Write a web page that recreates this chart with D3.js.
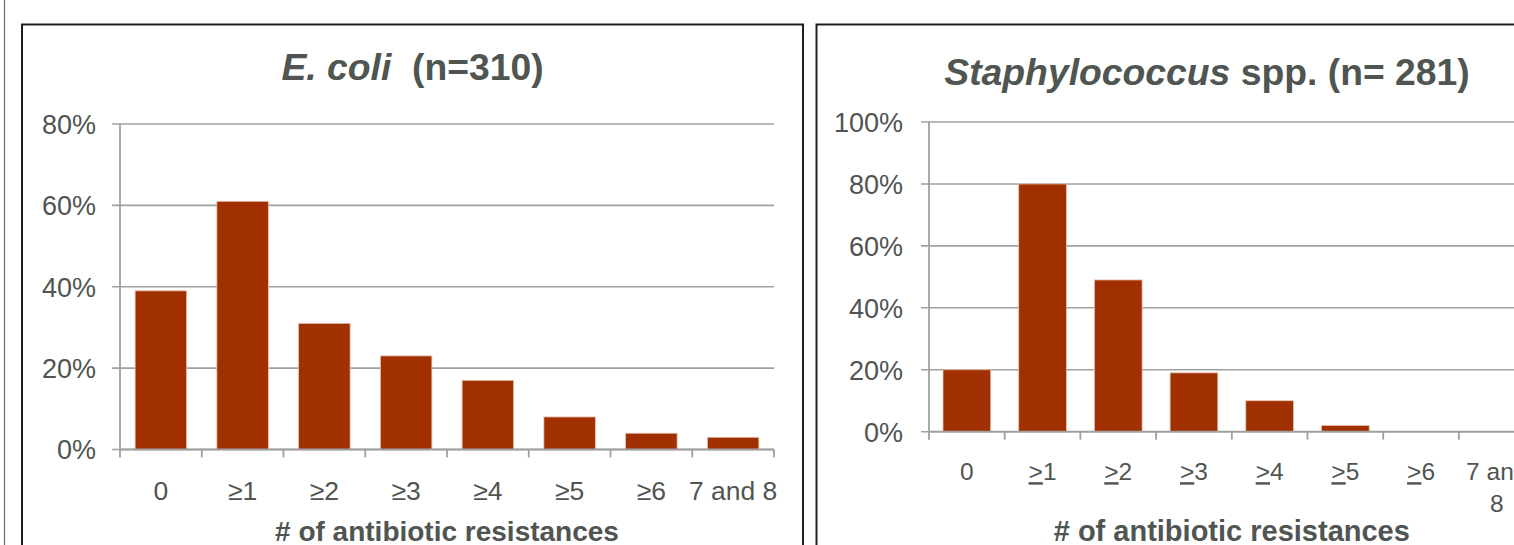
<!DOCTYPE html>
<html>
<head>
<meta charset="utf-8">
<script src="https://cdn.jsdelivr.net/npm/d3@7"></script>
<style>
  html, body { margin: 0; padding: 0; background: #fff; }
  svg { display: block; font-family: "Liberation Sans", Arial, sans-serif; }
  text { white-space: pre; }
</style>
</head>
<body>
<svg id="chart" width="1514" height="545"></svg>
<script>
// Share of isolates by number of antibiotic resistances
const categories = ["0", "≥1", "≥2", "≥3", "≥4", "≥5", "≥6", "7 and 8"];
const ecoliValues = [39, 61, 31, 23, 17, 8, 4, 3];
const staphValues = [20, 80, 49, 19, 10, 2, 0, 0];
const ecoliTicks = [0, 20, 40, 60, 80];
const staphTicks = [0, 20, 40, 60, 80, 100];
const xAxisTitle = "# of antibiotic resistances";

const TEXT = "#4f5550";
const BAR = "#a03000";
const GRID = "#a0a0a0";

const svg = d3.select("#chart");

// thin rule down the far left edge
svg.append("line").attr("x1", 4.5).attr("x2", 4.5).attr("y1", 0).attr("y2", 545)
  .attr("stroke", "#6a6a6a").attr("stroke-width", 1.2);

const panels = [
  {
    values: ecoliValues, ticks: ecoliTicks, yMax: 80,
    titleParts: [{ t: "E. coli", italic: true }, { t: "  (n=310)", italic: false }],
    box: [22, 24.5, 781], titleY: 80,
    plot: { x0: 120, x1: 774, yTop: 124, yBottom: 449.5 },
    yLabelSize: 27, yLabelGap: 16,
    xLabelSize: 26.5, xLabelDy: 50.5, underlineGe: false, wrap: false,
    axisTitleSize: 28, axisTitleY: 541
  },
  {
    values: staphValues, ticks: staphTicks, yMax: 100,
    titleParts: [{ t: "Staphylococcus", italic: true }, { t: " spp. (n= 281)", italic: false }],
    box: [816.5, 24.5, 781], titleY: 85,
    plot: { x0: 929, x1: 1534.6, yTop: 122, yBottom: 431.7 },
    yLabelSize: 27, yLabelGap: 18,
    xLabelSize: 24.5, xLabelDy: 48.5, underlineGe: true, wrap: true,
    axisTitleSize: 29, axisTitleY: 541
  }
];

panels.forEach(p => {
  const g = svg.append("g");
  const [bx, by, bw] = p.box;

  // panel frame (runs past the bottom edge)
  g.append("path")
    .attr("d", `M${bx},560 V${by} H${bx + bw} V560`)
    .attr("fill", "none").attr("stroke", "#1e1e1e").attr("stroke-width", 2);

  // title
  const title = g.append("text")
    .attr("x", bx + bw / 2).attr("y", p.titleY)
    .attr("text-anchor", "middle")
    .attr("font-size", 37.3).attr("font-weight", "bold").attr("fill", TEXT);
  p.titleParts.forEach(part => {
    title.append("tspan").text(part.t).attr("font-style", part.italic ? "italic" : "normal");
  });

  const x = d3.scaleBand().domain(categories)
    .range([p.plot.x0, p.plot.x1]).paddingInner(0.37).paddingOuter(0.185);
  const y = d3.scaleLinear().domain([0, p.yMax]).range([p.plot.yBottom, p.plot.yTop]);

  // horizontal gridlines (extending left as tick marks)
  g.append("g").selectAll("line").data(p.ticks).join("line")
    .attr("x1", p.plot.x0 - 8).attr("x2", p.plot.x1)
    .attr("y1", d => y(d)).attr("y2", d => y(d))
    .attr("stroke", GRID).attr("stroke-width", 1.6);

  // y axis labels
  const yAxis = d3.axisLeft(y).tickValues(p.ticks).tickFormat(d => d + "%")
    .tickSize(8).tickPadding(p.yLabelGap);
  const ya = g.append("g").attr("transform", `translate(${p.plot.x0},0)`).call(yAxis);
  ya.select(".domain").remove();
  ya.selectAll(".tick line").remove();
  ya.selectAll(".tick text")
    .attr("font-size", p.yLabelSize).attr("font-family", "Liberation Sans, Arial, sans-serif")
    .attr("fill", TEXT).attr("dy", "0.35em");

  // bars
  g.append("g").selectAll("rect").data(p.values).join("rect")
    .attr("x", (d, i) => x(categories[i]))
    .attr("width", x.bandwidth())
    .attr("y", d => y(d))
    .attr("height", d => y(0) - y(d))
    .attr("fill", BAR)
    .attr("stroke", "#e8c0b0").attr("stroke-width", 0.8);

  // vertical axis line
  g.append("line")
    .attr("x1", p.plot.x0).attr("x2", p.plot.x0)
    .attr("y1", y(p.yMax)).attr("y2", y(0) + 8)
    .attr("stroke", GRID).attr("stroke-width", 1.8);

  // horizontal axis line with ticks at category boundaries
  g.append("line")
    .attr("x1", p.plot.x0).attr("x2", p.plot.x1)
    .attr("y1", y(0)).attr("y2", y(0))
    .attr("stroke", GRID).attr("stroke-width", 1.8);
  const gap = (x.step() - x.bandwidth()) / 2;
  const bounds = categories.map(c => x(c) - gap).concat([x(categories[categories.length - 1]) + x.bandwidth() + gap]);
  g.append("g").selectAll("line").data(bounds.slice(1)).join("line")
    .attr("x1", d => d).attr("x2", d => d)
    .attr("y1", y(0)).attr("y2", y(0) + 8)
    .attr("stroke", GRID).attr("stroke-width", 1.8);

  // category labels
  const lbl = g.append("g").selectAll("text").data(categories).join("text")
    .attr("x", d => x(d) + x.bandwidth() / 2)
    .attr("y", y(0) + p.xLabelDy)
    .attr("text-anchor", "middle")
    .attr("font-size", p.xLabelSize).attr("fill", TEXT);
  lbl.each(function (d) {
    const t = d3.select(this);
    const cx = x(d) + x.bandwidth() / 2;
    if (p.wrap && d.indexOf(" and ") > 0) {
      const cut = d.lastIndexOf(" ");
      t.append("tspan").attr("x", cx).text(d.slice(0, cut));
      t.append("tspan").attr("x", cx).attr("dy", 31.5).text(d.slice(cut + 1));
    } else if (p.underlineGe && d.startsWith("≥")) {
      t.append("tspan").attr("text-decoration", "underline").text(">");
      t.append("tspan").text(d.slice(1));
    } else {
      t.text(d);
    }
  });

  // x axis title
  g.append("text")
    .attr("x", (p.plot.x0 + p.plot.x1) / 2).attr("y", p.axisTitleY)
    .attr("text-anchor", "middle")
    .attr("font-size", p.axisTitleSize).attr("font-weight", "bold").attr("fill", TEXT)
    .text(xAxisTitle);
});
</script>
</body>
</html>
